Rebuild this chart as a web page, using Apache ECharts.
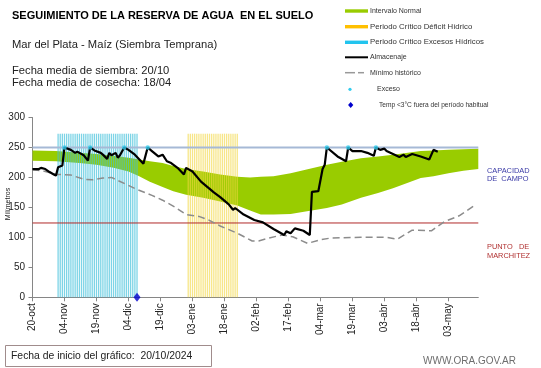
<!DOCTYPE html>
<html><head><meta charset="utf-8">
<script src="https://cdn.jsdelivr.net/npm/echarts@6/dist/echarts.min.js"></script>
<style>html,body{margin:0;padding:0;background:#fff}#c{width:541px;height:368px}</style>
</head><body><div id="c"></div>
<script>
// ---- Data (days counted from 20/10/2024) ----
const tickDias = [0,15,30,45,60,75,90,105,120,135,150,165,180,195];
const tickEtiquetas = ['20-oct','04-nov','19-nov','04-dic','19-dic','03-ene','18-ene','02-feb','17-feb','04-mar','19-mar','03-abr','18-abr','03-may'];
const diaFinal = 209;

const bandDias = [0,11,22,30,38,45,50,55,61,66,72,80,88,96,102,107,113,121,128,138,145,154,162,169,176,182,188,195,202,209];
const bandInf  = [228,227,224,221,216,210,202,193,184,177,171,166,160,153,145,138,138,139,143,149,155,166,174,182,191,199,202,207,211,214];
const bandSup  = [245,244,241,239,236,233,230,227,224,219,214,210,205,201,200,201,202,207,213,221,226,232,235,238,241,244,245,246,247,248];

const almDias = [0,3,4,6,8,10,11,12,14,15,18,20,21,24,26,27,29,32,33,35,36,37,39,40,41,43,45,48,52,54,56,59,61,63,65,68,71,72,75,79,85,88,92,94,95,99,104,108,113,118,119,121,123,127,130,131,134,136,137,138,143,147,148,150,154,157,160,161,163,165,166,172,174,175,178,182,186,188,190];
const almVal  = [214,214,216,214,209,205,203,217,220,250,246,241,243,237,228,250,245,241,238,231,241,237,241,233,237,250,246,238,223,250,244,235,238,227,224,216,205,216,210,193,175,167,155,146,149,138,129,125,114,104,110,107,115,111,104,176,177,214,221,250,235,227,250,244,244,241,236,250,246,248,244,234,238,234,239,235,230,246,243];

const minDias = [0,5,9,12,18,24,28,33,37,43,49,56,61,67,72,78,82,88,96,103,106,111,117,122,129,135,140,154,166,171,178,187,193,200,208];
const minVal  = [213,211,207,205,204,197,196,199,200,190,180,170,162,150,138,135,130,119,107,94,94,99,104,101,90,96,99,100,100,97,112,111,126,136,155];

const excesoDias = [15,27,43,54,138,148,161];
const excesoVal  = [250,250,250,250,250,250,250];

const tempDias = [49];
const tempVal  = [0];

const periodoExcesos = [12, 49];   // first and last day
const periodoDeficit = [73, 96];
const alturaPeriodo = 273;

const capacidadCampo = 250;
const puntoMarchitez = 124;

// ---- build ----
const zip = (a, b) => a.map((d, i) => [d, b[i]]);
function periodBars(p) { const r = []; for (let d = p[0]; d <= p[1]; d++) r.push([d, alturaPeriodo]); return r; }

const F = 'Liberation Sans, Arial, sans-serif';
const chart = echarts.init(document.getElementById('c'), null, {renderer: 'canvas'});

function renderBand(params, api) {
  if (params.dataIndex !== 0) return null;
  const up = bandDias.map((d, i) => api.coord([d, bandSup[i]]));
  const lo = bandDias.map((d, i) => api.coord([d, bandInf[i]])).reverse();
  return {type: 'polygon', shape: {points: up.concat(lo)}, style: {fill: '#99cc00'}};
}

const axisGray = '#868686';
const option = {
  animation: false,
  backgroundColor: '#fff',
  grid: {left: 32.5, right: 62.7, top: 117.5, bottom: 70.7, containLabel: false},
  xAxis: {
    type: 'value', min: 0, max: diaFinal, interval: 15,
    axisLine: {show: true, lineStyle: {color: axisGray, width: 1}},
    axisTick: {show: true, length: 4, lineStyle: {color: axisGray}, customValues: tickDias},
    axisLabel: {rotate: 90, margin: 6, fontSize: 10, fontFamily: F, color: '#222',
      customValues: tickDias,
      formatter: v => { const i = tickDias.indexOf(v); return i >= 0 ? tickEtiquetas[i] : ''; }},
    splitLine: {show: false}
  },
  yAxis: {
    type: 'value', min: 0, max: 300, interval: 50,
    axisLine: {show: true, lineStyle: {color: axisGray, width: 1}},
    axisTick: {show: true, length: 4, lineStyle: {color: axisGray}},
    axisLabel: {margin: 7.5, fontSize: 10, fontFamily: F, color: '#222'},
    splitLine: {show: false}
  },
  series: [
    {type: 'custom', renderItem: renderBand, data: [[bandDias[0], bandInf[0]]], z: 1, silent: true},
    {type: 'bar', data: periodBars(periodoExcesos), barWidth: 1.3, barGap: '-100%',
     itemStyle: {color: '#3fc0da', opacity: 0.68}, z: 2},
    {type: 'bar', data: periodBars(periodoDeficit), barWidth: 1.3, barGap: '-100%',
     itemStyle: {color: '#f2d640', opacity: 0.62}, z: 2},
    {type: 'line', data: [[0, capacidadCampo], [diaFinal, capacidadCampo]], symbol: 'none',
     lineStyle: {color: '#a6b9d6', width: 2}, z: 3},
    {type: 'line', data: [[0, puntoMarchitez], [diaFinal, puntoMarchitez]], symbol: 'none',
     lineStyle: {color: '#b02a2a', width: 1}, z: 3},
    {type: 'line', data: zip(minDias, minVal), symbol: 'none',
     lineStyle: {color: '#8c8c8c', width: 1.5, type: [7, 4]}, z: 4},
    {type: 'line', data: zip(almDias, almVal), symbol: 'none',
     lineStyle: {color: '#000', width: 2.2}, z: 5},
    {type: 'scatter', data: zip(excesoDias, excesoVal), symbol: 'circle', symbolSize: 4.5,
     itemStyle: {color: '#33ccee'}, z: 6},
    {type: 'scatter', data: zip(tempDias, tempVal), symbol: 'diamond', symbolSize: [7, 9],
     itemStyle: {color: '#0000cc'}, z: 6, clip: false}
  ],
  graphic: [
    {type: 'text', x: 12, y: 16, style: {text: 'SEGUIMIENTO DE LA RESERVA DE AGUA  EN EL SUELO', font: 'bold 11px ' + F, fill: '#000', textVerticalAlign: 'middle'}},
    {type: 'text', x: 12, y: 45, style: {text: 'Mar del Plata - Maíz (Siembra Temprana)', font: '11.2px ' + F, fill: '#222', textVerticalAlign: 'middle'}},
    {type: 'text', x: 12, y: 71, style: {text: 'Fecha media de siembra: 20/10', font: '11.2px ' + F, fill: '#222', textVerticalAlign: 'middle'}},
    {type: 'text', x: 12, y: 82.5, style: {text: 'Fecha media de cosecha: 18/04', font: '11.2px ' + F, fill: '#222', textVerticalAlign: 'middle'}},
    // legend
    {type: 'rect', shape: {x: 345, y: 9.3, width: 23, height: 3.4}, style: {fill: '#99cc00'}},
    {type: 'text', x: 370, y: 11, style: {text: 'Intervalo Normal', font: '7px ' + F, fill: '#333', textVerticalAlign: 'middle'}},
    {type: 'rect', shape: {x: 345, y: 25, width: 23, height: 3.4}, style: {fill: '#ffc000'}},
    {type: 'text', x: 370, y: 26.7, style: {text: 'Periodo Crítico Déficit Hídrico', font: '7.8px ' + F, fill: '#333', textVerticalAlign: 'middle'}},
    {type: 'rect', shape: {x: 345, y: 40.6, width: 23, height: 3.4}, style: {fill: '#22c4ee'}},
    {type: 'text', x: 370, y: 42.3, style: {text: 'Periodo Crítico Excesos Hídricos', font: '7.8px ' + F, fill: '#333', textVerticalAlign: 'middle'}},
    {type: 'line', shape: {x1: 345, y1: 57.3, x2: 368, y2: 57.3}, style: {stroke: '#000', lineWidth: 2}},
    {type: 'text', x: 370, y: 57.3, style: {text: 'Almacenaje', font: '7px ' + F, fill: '#333', textVerticalAlign: 'middle'}},
    {type: 'line', shape: {x1: 345, y1: 72.7, x2: 355, y2: 72.7}, style: {stroke: '#999', lineWidth: 1.5}},
    {type: 'line', shape: {x1: 358, y1: 72.7, x2: 364, y2: 72.7}, style: {stroke: '#999', lineWidth: 1.5}},
    {type: 'text', x: 370, y: 72.7, style: {text: 'Mínimo histórico', font: '7px ' + F, fill: '#333', textVerticalAlign: 'middle'}},
    {type: 'circle', shape: {cx: 350, cy: 89.3, r: 1.6}, style: {fill: '#33ccee'}},
    {type: 'text', x: 377, y: 89.3, style: {text: 'Exceso', font: '7px ' + F, fill: '#333', textVerticalAlign: 'middle'}},
    {type: 'polygon', shape: {points: [[350.7, 102], [353.3, 105], [350.7, 108], [348.1, 105]]}, style: {fill: '#0000cc'}},
    {type: 'text', x: 379, y: 105, style: {text: 'Temp <3°C fuera del período habitual', font: '6.6px ' + F, fill: '#333', textVerticalAlign: 'middle'}},
    // axis name
    {type: 'text', x: 8, y: 204, rotation: Math.PI / 2, style: {text: 'Milímetros', font: '7px ' + F, fill: '#222', textAlign: 'center', textVerticalAlign: 'middle'}},
    // right labels
    {type: 'text', x: 487, y: 170.5, style: {text: 'CAPACIDAD', font: '7.4px ' + F, fill: '#3a3aa6', textVerticalAlign: 'middle'}},
    {type: 'text', x: 487, y: 179, style: {text: 'DE  CAMPO', font: '7.4px ' + F, fill: '#3a3aa6', textVerticalAlign: 'middle'}},
    {type: 'text', x: 487, y: 246.7, style: {text: 'PUNTO   DE', font: '7.4px ' + F, fill: '#b03030', textVerticalAlign: 'middle'}},
    {type: 'text', x: 487, y: 255.5, style: {text: 'MARCHITEZ', font: '7.4px ' + F, fill: '#b03030', textVerticalAlign: 'middle'}},
    // bottom box
    {type: 'rect', shape: {x: 5.5, y: 345.5, width: 206, height: 21}, style: {fill: '#fff', stroke: '#a08c8c', lineWidth: 1}},
    {type: 'text', x: 11, y: 356, style: {text: 'Fecha de inicio del gráfico:  20/10/2024', font: '10.4px ' + F, fill: '#222', textVerticalAlign: 'middle'}},
    {type: 'text', x: 423, y: 361, style: {text: 'WWW.ORA.GOV.AR', font: '10px ' + F, fill: '#6e6e6e', textVerticalAlign: 'middle'}}
  ]
};
chart.setOption(option);
</script>
</body></html>
